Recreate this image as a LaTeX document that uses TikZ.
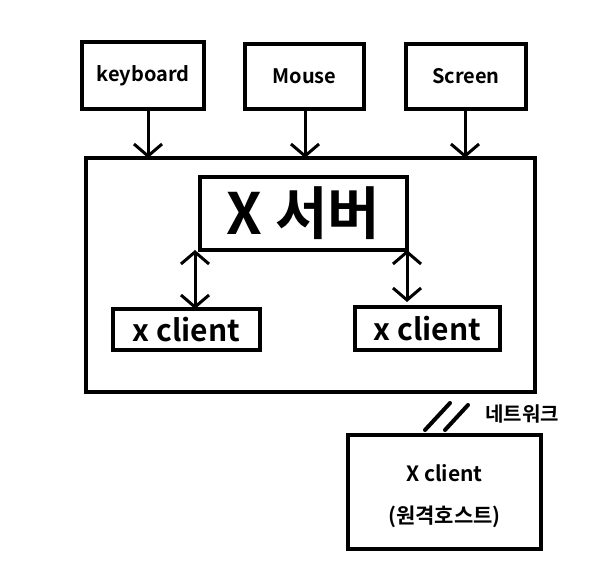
\documentclass[tikz,border=0pt]{standalone}
\usepackage{fontspec}
\setmainfont{Noto Sans CJK KR}[BoldFont={Noto Sans CJK KR Bold}]
\usetikzlibrary{arrows.meta}
\begin{document}
\begin{tikzpicture}[x=1pt,y=-1pt,
  box/.style={draw,line width=4pt,inner sep=0pt},
  tipb/.tip={Straight Barb[length=12pt,width=28pt,line width=3pt]},
  conn/.style={line width=3pt,-tipb},
  dconn/.style={line width=3pt,tipb-tipb},
  lbl/.style={font=\bfseries\fontsize{20}{24}\selectfont}]
\useasboundingbox (0,0) rectangle (601,586);
\node[box,minimum width=122pt,minimum height=67pt,lbl] (kb) at (143,75.5) {keyboard};
\node[box,minimum width=119pt,minimum height=65pt,lbl] (ms) at (304.5,76.5) {Mouse};
\node[box,minimum width=120pt,minimum height=65pt,lbl] (sc) at (466,76.5) {Screen};
\node[box,minimum width=449pt,minimum height=234pt] (main) at (310.5,275) {};
\node[box,minimum width=207pt,minimum height=73pt,font=\bfseries\fontsize{57}{60}\selectfont] (srv) at (303.5,213.5) {X 서버};
\node[box,minimum width=147pt,minimum height=41pt,font=\bfseries\fontsize{30}{34}\selectfont] (c1) at (186.5,329.5) {x client};
\node[box,minimum width=145pt,minimum height=43pt,font=\bfseries\fontsize{30}{34}\selectfont] (c2) at (427.5,328.5) {x client};
\node[box,minimum width=193pt,minimum height=114pt] (rem) at (444.5,492) {};
\node[align=center,font=\bfseries\fontsize{21}{42}\selectfont] (remtxt) at (444.5,496) {X client\\(원격호스트)};
\node[lbl] (net) at (522,414) {네트워크};
\draw[conn] (kb.south -| 148,0) -- (148,158);
\draw[conn] (ms.south -| 305,0) -- (305,158);
\draw[conn] (sc.south -| 465,0) -- (465,158);
\draw[dconn] (195,250) coordinate (a1) -- (195,309) coordinate (a2);
\draw[dconn] (407,250) coordinate (b1) -- (407,302) coordinate (b2);
\coordinate (s1a) at (425,430); \coordinate (s1b) at (450,403);
\coordinate (s2a) at (445,430); \coordinate (s2b) at (468,405);
\draw[line width=4pt,line cap=round] (s1a) -- (s1b);
\draw[line width=4pt,line cap=round] (s2a) -- (s2b);
\end{tikzpicture}
\end{document}
